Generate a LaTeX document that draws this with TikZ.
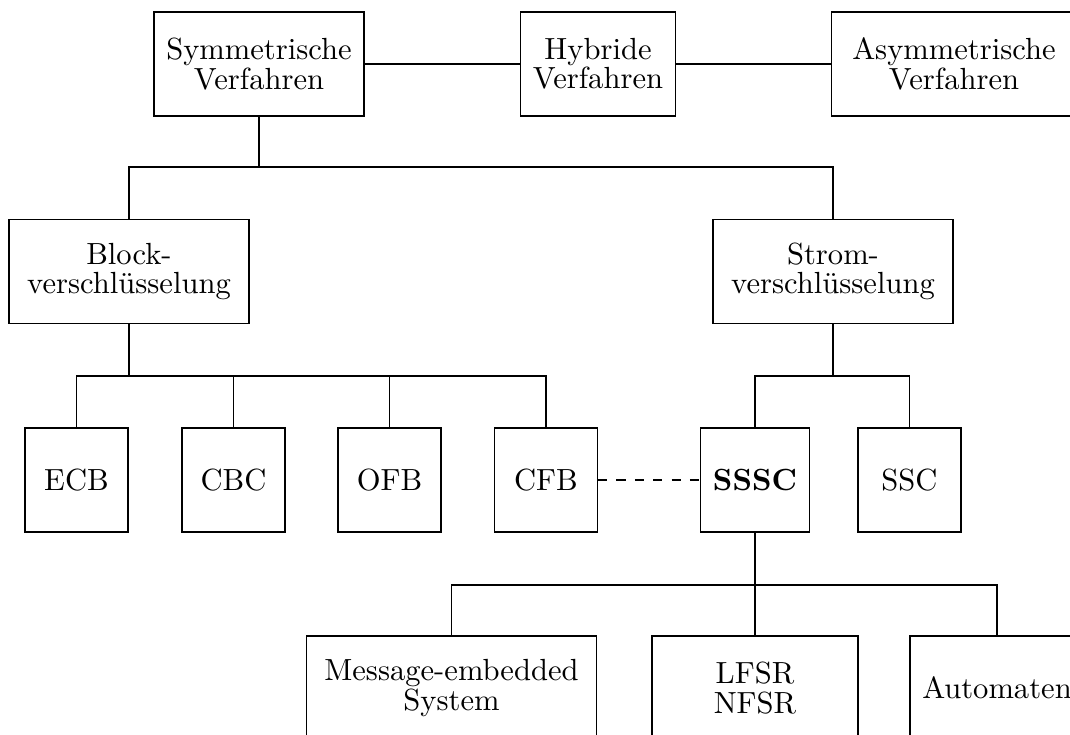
\documentclass[tikz,border=0pt]{standalone}
\begin{document}
\begin{tikzpicture}[x=0.327pt, y=-0.327pt,
    box/.style={draw, align=center, inner sep=4pt, minimum height=34pt, minimum width=33.7pt,
        font=\fontsize{10}{9.6}\selectfont}]
    \useasboundingbox (0,0) rectangle (1070,735);
    \clip (0,0) rectangle (1070,735);
    \node[box] (sym) at (259,64) {Symmetrische\\Verfahren};
    \node[box] (hyb) at (598,64) {Hybride\\Verfahren};
    \node[box, minimum width=80pt] (asym) at (954,64) {Asymmetrische\\Verfahren};
    \draw (sym) -- (hyb);
    \draw (hyb) -- (asym);

    \coordinate (sj) at (259,167);
    \node[box, minimum width=78.5pt] (block) at (129,271.5) {Block-\\verschl\"usselung};
    \node[box, minimum width=78.5pt] (strom) at (833,271.5) {Strom-\\verschl\"usselung};
    \draw (sym) -- (sj);
    \draw (block) |- (sj);
    \draw (strom) |- (sj);

    \coordinate (bj) at (129,376);
    \draw (block) -- (bj);
    \foreach \n/\x in {ECB/76.5, CBC/233.5, OFB/389.5, CFB/546} {
        \node[box] (\n) at (\x,480) {\n};
        \draw (\n) |- (bj);
    }

    \coordinate (tj) at (833,376);
    \node[box] (SSSC) at (755,480) {\textbf{SSSC}};
    \node[box] (SSC) at (909.5,480) {SSC};
    \draw (strom) -- (tj);
    \draw (SSSC) |- (tj);
    \draw (SSC) |- (tj);
    \draw[dashed] (CFB) -- (SSSC);

    \coordinate (qj) at (755,585);
    \node[box, minimum width=95pt] (msg) at (451.5,688) {Message-embedded\\System};
    \node[box, minimum width=67.4pt] (lfsr) at (755,688) {LFSR\\NFSR};
    \node[box] (auto) at (997,688) {Automaten};
    \draw (SSSC) -- (lfsr);
    \draw (msg) |- (qj);
    \draw (auto) |- (qj);
\end{tikzpicture}
\end{document}
